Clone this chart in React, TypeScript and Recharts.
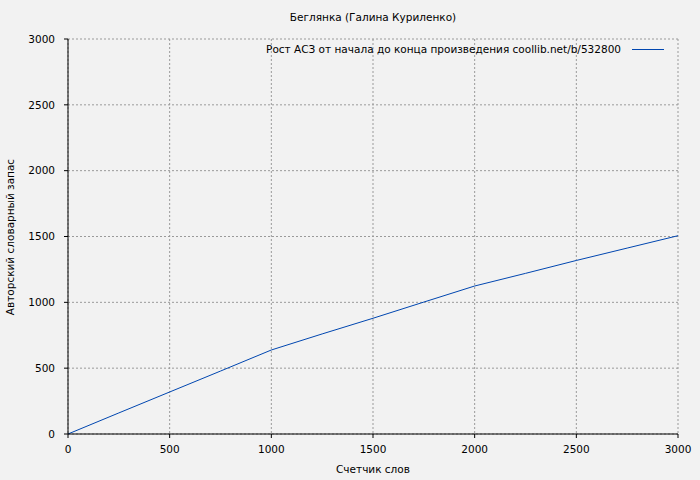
import { LineChart, Line, XAxis, YAxis, CartesianGrid } from 'recharts';

const words = [0, 250, 500, 750, 1000, 1250, 1500, 1750, 2000, 2250, 2500, 2750, 3000];
const vocab = [0, 160, 319, 478, 638, 760, 879, 1002, 1124, 1220, 1318, 1412, 1506];
const xTicks = [0, 500, 1000, 1500, 2000, 2500, 3000];
const yTicks = [0, 500, 1000, 1500, 2000, 2500, 3000];

const data = words.map((w, i) => ({ words: w, vocab: vocab[i] }));

const FONT = 'DejaVu Sans, Verdana, sans-serif';
const FS = 10.5;
const tickStyle = { fontSize: FS, fill: '#000', fontFamily: FONT };

export default function App() {
  return (
    <div style={{ position: 'relative', width: 700, height: 480, background: '#f2f2f2', fontFamily: FONT, fontSize: FS }}>
      <style>{`body{margin:0}`}</style>
      <div style={{ position: 'absolute', top: 11, left: 68, width: 610, textAlign: 'center' }}>
        Беглянка (Галина Куриленко)
      </div>
      <div style={{ position: 'absolute', top: 463, left: 68, width: 610, textAlign: 'center' }}>
        Счетчик слов
      </div>
      <div
        style={{
          position: 'absolute',
          left: 10,
          top: 237,
          transform: 'translate(-50%, -50%) rotate(-90deg)',
          whiteSpace: 'nowrap',
        }}
      >
        Авторский словарный запас
      </div>
      <LineChart width={700} height={480} data={data} margin={{ top: 39, right: 22, left: 0, bottom: 0 }}>
        <CartesianGrid stroke="#9a9a9a" strokeDasharray="2 2" />
        <XAxis
          dataKey="words"
          type="number"
          domain={[0, 3000]}
          ticks={xTicks}
          height={46}
          tickSize={4}
          tickMargin={8}
          stroke="#000"
          tick={tickStyle}
          interval={0}
        />
        <XAxis xAxisId="top" orientation="top" type="number" domain={[0, 3000]} height={0} tick={false} tickLine={false} stroke="#000" />
        <YAxis
          type="number"
          domain={[0, 3000]}
          ticks={yTicks}
          width={68}
          tickSize={4}
          tickMargin={9}
          stroke="#000"
          tick={tickStyle}
          interval={0}
        />
        <YAxis yAxisId="right" orientation="right" type="number" domain={[0, 3000]} width={0} tick={false} tickLine={false} stroke="#000" />
        <Line
          dataKey="vocab"
          type="linear"
          stroke="#0046b0"
          strokeWidth={1}
          dot={false}
          isAnimationActive={false}
        />
      </LineChart>
      <div
        style={{
          position: 'absolute',
          top: 43,
          right: 36,
          display: 'flex',
          alignItems: 'center',
          whiteSpace: 'nowrap',
        }}
      >
        <span>Рост АСЗ от начала до конца произведения coollib.net/b/532800</span>
        <span style={{ display: 'inline-block', width: 32, height: 1, background: '#0046b0', marginLeft: 11 }} />
      </div>
    </div>
  );
}
